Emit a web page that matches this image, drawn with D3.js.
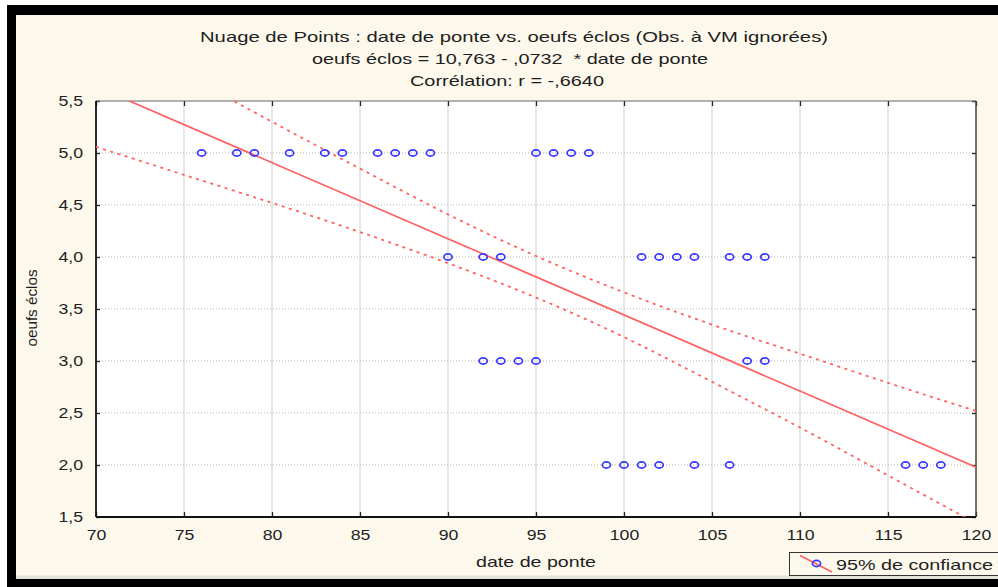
<!DOCTYPE html>
<html>
<head>
<meta charset="utf-8">
<script src="https://cdn.jsdelivr.net/npm/d3@7/dist/d3.min.js"></script>
<style>
  body { margin: 0; background: #ffffff; }
  text { font-family: "Liberation Sans", Arial, sans-serif; fill: #1e1e1e; white-space: pre; }
</style>
</head>
<body>
<script>
// Laying date (x) and number of hatched eggs (y) for each nest
const layingDate = [
  76, 78, 79, 81, 83, 84, 86, 87, 88, 89, 95, 96, 97, 98,
  90, 92, 93, 101, 102, 103, 104, 106, 107, 108,
  92, 93, 94, 95, 107, 108,
  99, 100, 101, 102, 104, 106, 116, 117, 118
];
const eggsHatched = [
  5, 5, 5, 5, 5, 5, 5, 5, 5, 5, 5, 5, 5, 5,
  4, 4, 4, 4, 4, 4, 4, 4, 4, 4,
  3, 3, 3, 3, 3, 3,
  2, 2, 2, 2, 2, 2, 2, 2, 2
];

// Fitted line: oeufs éclos = 10,763 - ,0732 * date de ponte
const intercept = 10.763;
const slope = -0.0732;

// 95% confidence band around the fitted line
const bandDates = [70, 75, 80, 85, 90, 95, 100, 105, 110, 115, 120];
const upperBand = [6.22, 5.76, 5.30, 4.85, 4.41, 4.01, 3.66, 3.35, 3.07, 2.79, 2.52];
const lowerBand = [5.06, 4.79, 4.52, 4.24, 3.94, 3.61, 3.23, 2.80, 2.36, 1.90, 1.44];

const xTicks = [70, 75, 80, 85, 90, 95, 100, 105, 110, 115, 120];
const yTicks = [1.5, 2.0, 2.5, 3.0, 3.5, 4.0, 4.5, 5.0, 5.5];

const titleLines = [
  "Nuage de Points : date de ponte vs. oeufs éclos (Obs. à VM ignorées)",
  "oeufs éclos = 10,763 - ,0732  * date de ponte",
  "Corrélation: r = -,6640"
];
const xTitle = "date de ponte";
const yTitle = "oeufs éclos";
const legendLabel = "95% de confiance";

const W = 998, H = 587;
const plot = { left: 96, right: 976, top: 101, bottom: 517 };
const red = "#ff6262", blue = "#3636ff";

const svg = d3.select("body").append("svg").attr("width", W).attr("height", H);

// window frame and background
svg.append("rect").attr("x", 7).attr("y", 5).attr("width", W - 7).attr("height", H - 5).attr("fill", "#000");
svg.append("rect").attr("x", 16).attr("y", 15).attr("width", W - 16).attr("height", 564).attr("fill", "#fdf8ec");
svg.append("rect").attr("x", 16).attr("y", 575.5).attr("width", W - 16).attr("height", 3.5).attr("fill", "#e4e2dc");

const x = d3.scaleLinear().domain([70, 120]).range([plot.left, plot.right]);
const y = d3.scaleLinear().domain([1.5, 5.5]).range([plot.bottom, plot.top]);

// stretch text horizontally by a factor, or to an exact width
function widen(sel, factor) {
  sel.each(function () {
    const len = this.getComputedTextLength();
    this.setAttribute("textLength", len * factor);
    this.setAttribute("lengthAdjust", "spacingAndGlyphs");
  });
}
function fit(sel, width) {
  sel.attr("textLength", width).attr("lengthAdjust", "spacingAndGlyphs");
}

// plot area
svg.append("rect")
  .attr("x", plot.left).attr("y", plot.top)
  .attr("width", plot.right - plot.left).attr("height", plot.bottom - plot.top)
  .attr("fill", "#fff");

// grid
svg.append("g").selectAll("line")
  .data(xTicks.slice(1, -1)).join("line")
  .attr("x1", d => x(d)).attr("x2", d => x(d))
  .attr("y1", plot.top).attr("y2", plot.bottom)
  .attr("stroke", "#cfcfcf").attr("stroke-width", 1);
svg.append("g").selectAll("line")
  .data(yTicks.slice(1, -1)).join("line")
  .attr("x1", plot.left).attr("x2", plot.right)
  .attr("y1", d => y(d)).attr("y2", d => y(d))
  .attr("stroke", "#b4b4b4").attr("stroke-width", 1)
  .attr("stroke-dasharray", "1,2");

// axes with inward ticks
const fmt = d => d3.format(".1f")(d).replace(".", ",");
const xAxis = svg.append("g").attr("transform", `translate(0,${plot.bottom})`)
  .call(d3.axisBottom(x).tickValues(xTicks).tickSize(-5).tickPadding(12).tickFormat(d3.format("d")));
const xAxisTop = svg.append("g").attr("transform", `translate(0,${plot.top})`)
  .call(d3.axisTop(x).tickValues(xTicks).tickSize(-5).tickFormat(""));
const yAxis = svg.append("g").attr("transform", `translate(${plot.left},0)`)
  .call(d3.axisLeft(y).tickValues(yTicks).tickSize(-4).tickPadding(13).tickFormat(fmt));
const yAxisRight = svg.append("g").attr("transform", `translate(${plot.right},0)`)
  .call(d3.axisRight(y).tickValues(yTicks).tickSize(-4).tickFormat(""));

[xAxis, xAxisTop, yAxis, yAxisRight].forEach(g => {
  g.select(".domain").remove();
  g.selectAll(".tick line").attr("stroke", "#222").attr("stroke-width", 1.3);
});
xAxis.selectAll(".tick text").attr("font-size", 15).attr("fill", "#222").call(widen, 1.18);
yAxis.selectAll(".tick text").attr("font-size", 15).attr("fill", "#222").call(widen, 1.18);

// plot frame
svg.append("line").attr("x1", plot.left).attr("x2", plot.right).attr("y1", plot.top).attr("y2", plot.top)
  .attr("stroke", "#666").attr("stroke-width", 1.2);
svg.append("line").attr("x1", plot.right).attr("x2", plot.right).attr("y1", plot.top).attr("y2", plot.bottom)
  .attr("stroke", "#444").attr("stroke-width", 1.5);
svg.append("line").attr("x1", plot.left).attr("x2", plot.left).attr("y1", plot.top).attr("y2", plot.bottom)
  .attr("stroke", "#111").attr("stroke-width", 1.8);
svg.append("line").attr("x1", plot.left).attr("x2", plot.right).attr("y1", plot.bottom).attr("y2", plot.bottom)
  .attr("stroke", "#111").attr("stroke-width", 1.8);

// clip for the fitted line and its band
svg.append("clipPath").attr("id", "plotClip").append("rect")
  .attr("x", plot.left).attr("y", plot.top)
  .attr("width", plot.right - plot.left).attr("height", plot.bottom - plot.top);
const fitLayer = svg.append("g").attr("clip-path", "url(#plotClip)");

const bandLine = d3.line().x(d => x(d[0])).y(d => y(d[1])).curve(d3.curveNatural);
[upperBand, lowerBand].forEach(band => {
  fitLayer.append("path")
    .attr("d", bandLine(bandDates.map((d, i) => [d, band[i]])))
    .attr("fill", "none").attr("stroke", red).attr("stroke-width", 1.8)
    .attr("stroke-dasharray", "3,4.5");
});

const [x0, x1] = x.domain();
fitLayer.append("line")
  .attr("x1", x(x0)).attr("y1", y(intercept + slope * x0))
  .attr("x2", x(x1)).attr("y2", y(intercept + slope * x1))
  .attr("stroke", red).attr("stroke-width", 1.7);

// observations
svg.append("g").selectAll("ellipse")
  .data(layingDate.map((d, i) => [d, eggsHatched[i]])).join("ellipse")
  .attr("cx", d => x(d[0])).attr("cy", d => y(d[1]))
  .attr("rx", 4.1).attr("ry", 3.1)
  .attr("fill", "none").attr("stroke", blue).attr("stroke-width", 1.7);

// titles
const titleY = [42, 64, 86];
const titleX = [514, 510, 507];
const titleW = [628, 396, 194];
titleLines.forEach((t, i) => {
  svg.append("text").attr("x", titleX[i]).attr("y", titleY[i])
    .attr("text-anchor", "middle").attr("font-size", 15).text(t)
    .call(fit, titleW[i]);
});

svg.append("text").attr("x", 536).attr("y", 567).attr("text-anchor", "middle")
  .attr("font-size", 14.5).text(xTitle).call(fit, 120);

svg.append("text").attr("transform", "translate(37,308) rotate(-90)")
  .attr("text-anchor", "middle").attr("font-size", 14).text(yTitle).call(fit, 77);

// legend
const lg = svg.append("g");
lg.append("rect").attr("x", 789.5).attr("y", 552.5).attr("width", 220).attr("height", 23)
  .attr("fill", "#fdf8ec").attr("stroke", "#333").attr("stroke-width", 1);
lg.append("line").attr("x1", 800).attr("y1", 555.5).attr("x2", 832).attr("y2", 572)
  .attr("stroke", red).attr("stroke-width", 1.5);
lg.append("ellipse").attr("cx", 816.5).attr("cy", 563.5).attr("rx", 4.1).attr("ry", 3.1)
  .attr("fill", "none").attr("stroke", blue).attr("stroke-width", 1.7);
lg.append("text").attr("x", 836).attr("y", 570).attr("font-size", 15).attr("fill", "#222")
  .text(legendLabel).call(fit, 157);
</script>
</body>
</html>
